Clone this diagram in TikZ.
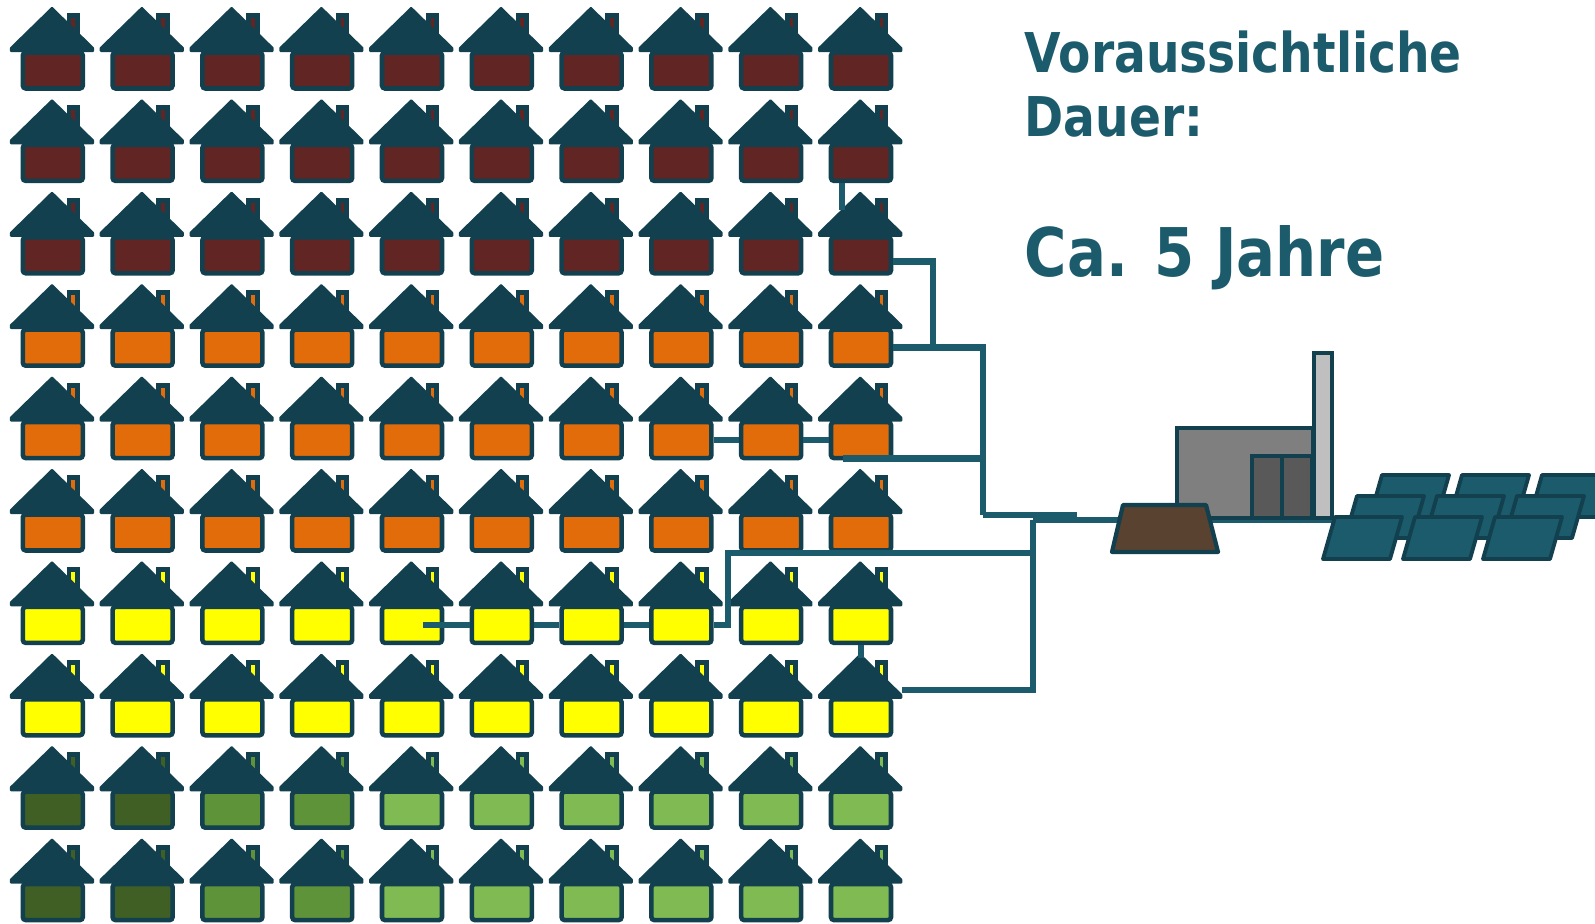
\documentclass[tikz,border=0pt]{standalone}
\usepackage{fontspec}
\newfontfamily\labelfont{DejaVu Sans}[FakeStretch=0.86]
\definecolor{houseedge}{HTML}{12404F}
\definecolor{pipeblue}{HTML}{1B5B6C}
\definecolor{brick}{HTML}{612523}
\definecolor{rust}{HTML}{E36C0A}
\definecolor{sun}{HTML}{FFFF00}
\definecolor{leafdark}{HTML}{3F5F25}
\definecolor{leafmid}{HTML}{5F933A}
\definecolor{leaflight}{HTML}{80BA53}
\definecolor{pilebrown}{HTML}{594330}
\definecolor{hallgray}{HTML}{7F7F7F}
\definecolor{gategray}{HTML}{595959}
\definecolor{stackgray}{HTML}{BFBFBF}
\tikzset{
  housebody/.style={draw=houseedge, line width=1.3pt, rounded corners=0.3mm,
    minimum width=6mm, minimum height=3.6mm, inner sep=0pt},
  house/.pic={
    \filldraw[draw=houseedge, line width=1.4pt, fill=#1] (17,30) rectangle (25.5,7.5);
    \node[housebody, fill=#1] (-body) at (0.8,62.5) {};
    \filldraw[houseedge, line width=0.6pt, line join=round]
      (0,0) -- (41,40) -- (41,43) -- (-41,43) -- (-41,40) -- cycle;
  },
  pipe/.style={draw=pipeblue, line width=1.9pt},
  plantpart/.style={draw=houseedge, line width=1.2pt},
  panel/.style={draw=houseedge, fill=pipeblue, line width=1.1pt, line join=round},
  heading/.style={text=pipeblue, anchor=base west, inner sep=0pt},
}
\begin{document}
\begin{tikzpicture}[x=0.1mm, y=-0.1mm]
    \clip (0,0) rectangle (1595,924);
    \foreach \i in {0,...,9} \foreach \j in {0,...,9} {
      \def\bodycolor{brick}
      \ifnum\i>2 \def\bodycolor{rust}\fi
      \ifnum\i>5 \def\bodycolor{sun}\fi
      \ifnum\i>7
        \def\bodycolor{leaflight}
        \ifnum\j<4 \def\bodycolor{leafmid}\fi
        \ifnum\j<2 \def\bodycolor{leafdark}\fi
      \fi
      \pic (h\i\j) at ({52+89.8*\j},{8+92.4*\i}) {house=\bodycolor};
    }

    % network
    \coordinate (tee) at (933,346.5);
    \coordinate (trunk) at (983,515);
    \coordinate (trunkend) at (1077,515);
    \coordinate (split) at (1033,520);
    \coordinate (yel) at (728,553);
    \coordinate (plantfoot) at (1340,520);
    \draw[pipe] ([xshift=-1.9mm]h19-body.south) -- ([xshift=-1.9mm,yshift=2.5mm]h29-body.north);
    \draw[pipe] ([yshift=-0.6mm]h29-body.east) -| (tee);
    \draw[pipe] (h39-body.east) -| (trunk);
    \draw[pipe] ([xshift=-1.8mm,yshift=0.2mm]h49-body.south) -| (trunk);
    \draw[pipe] (h47-body.east) -- (h48-body.west);
    \draw[pipe] (h48-body.east) -- (h49-body.west);
    \draw[pipe] (trunk) -- (trunkend);
    \draw[pipe] (split) -- (plantfoot);
    \draw[pipe] (split) |- ([xshift=0.9mm,yshift=0.7mm]h79-body.north east);
    \draw[pipe] (h69-body.south) -- ([yshift=3.9mm]h79-body.north);
    \draw[pipe] (split |- yel) -- (yel) |- (h67-body.east);
    \draw[pipe] ([xshift=-2.1mm]h64-body.east) -- (h65-body.west);
    \draw[pipe] (h65-body.east) -- (h66-body.west);
    \draw[pipe] (h66-body.east) -- (h67-body.west);

    % plant
    \filldraw[plantpart, fill=hallgray] (1177,518) rectangle (1313,428);
    \filldraw[plantpart, fill=gategray] (1252,518) rectangle (1312,456);
    \draw[plantpart] (1282,456) -- (1282,518);
    \filldraw[plantpart, fill=stackgray] (1314,518) rectangle (1332,353);
    \filldraw[plantpart, fill=pilebrown, line join=round]
      (1112,552) -- (1218,552) -- (1206,505) -- (1123,505) -- cycle;
    \foreach \y/\x in {475/1382, 496/1357, 517/1335} \foreach \k in {0,1,2}
      \filldraw[panel] ({\x+80*\k},\y) -- ++(67,0) -- ++(-12,42) -- ++(-67,0) -- cycle;

    \node[heading, font=\labelfont\bfseries\fontsize{15.6}{18}\selectfont] (title) at (1024,73) {Voraussichtliche};
    \node[heading, font=\labelfont\bfseries\fontsize{15.6}{18}\selectfont] (titlecont) at (1024,137) {Dauer:};
    \node[heading, font=\labelfont\bfseries\fontsize{19.1}{22}\selectfont] (duration) at (1024,277) {Ca. 5 Jahre};
  \end{tikzpicture}
\end{document}
